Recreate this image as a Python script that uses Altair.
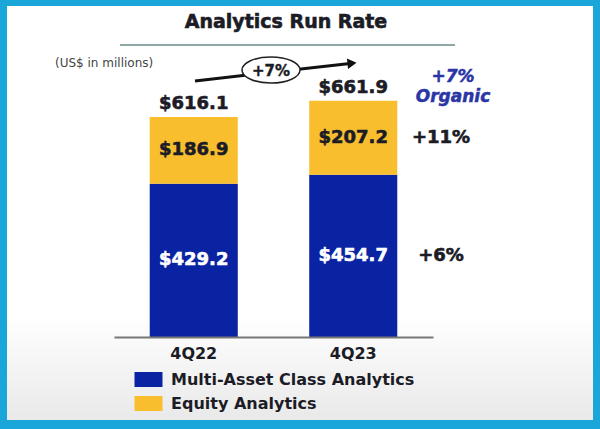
import altair as alt
import pandas as pd

quarters = ["4Q22", "4Q23"]
segments = ["Multi-Asset Class Analytics", "Equity Analytics"]
multi_asset = [429.2, 454.7]
equity = [186.9, 207.2]
totals = [616.1, 661.9]
segment_growth = ["+6%", "+11%"]  # 4Q23 YoY growth for multi-asset, equity
total_growth = "+7%"
organic_lines = ["+7%", "Organic"]
title_text = "Analytics Run Rate"
unit_text = "(US$ in millions)"

BLUE = "#0A23A2"
YELLOW = "#F8BE2E"
DARK = "#1c1c26"
FONT = "DejaVu Sans"
SW = 0.6  # slight stroke to mimic the heavy typeface

rows = []
for i, q in enumerate(quarters):
    m, e = multi_asset[i], equity[i]
    rows.append({"quarter": q, "segment": segments[0], "value": m, "ord": 0,
                 "mid": m / 2, "label": f"${m:.1f}", "tcolor": "white"})
    rows.append({"quarter": q, "segment": segments[1], "value": e, "ord": 1,
                 "mid": m + e / 2, "label": f"${e:.1f}", "tcolor": DARK})
df = pd.DataFrame(rows)
tot_df = pd.DataFrame({"quarter": quarters, "total": totals,
                       "label": [f"${t:.1f}" for t in totals]})
growth_df = df[df["quarter"] == quarters[-1]].copy()
growth_df["glabel"] = segment_growth
one = pd.DataFrame({"k": [0]})

yscale = alt.Scale(domain=[0, 832])
xenc = alt.X("quarter:N", sort=quarters,
             scale=alt.Scale(paddingInner=0.448, paddingOuter=0.224),
             axis=alt.Axis(title=None, labelAngle=0, ticks=False, domainColor="#777777",
                           domainWidth=2, labelFont=FONT, labelFontSize=16,
                           labelFontWeight="bold", labelColor=DARK, labelPadding=8,
                           zindex=1))

bg = alt.Chart(one).mark_rect(
    color=alt.LinearGradient(gradient="linear", x1=0, y1=0, x2=0, y2=1,
                             stops=[alt.GradientStop(color="#ffffff", offset=0),
                                    alt.GradientStop(color="#ffffff", offset=0.75),
                                    alt.GradientStop(color="#e9e9e9", offset=1)])
).encode(x=alt.value(-107), x2=alt.value(479), y=alt.value(-34), y2=alt.value(380))

title = alt.Chart(pd.DataFrame({"t": [title_text]})).mark_text(
    font=FONT, fontSize=19, fontWeight="bold", color=DARK, stroke=DARK, strokeWidth=SW
).encode(x=alt.value(172), y=alt.value(-18), text="t:N")

underline = alt.Chart(one).mark_rule(color="#8fa7a6", strokeWidth=2).encode(
    x=alt.value(6), x2=alt.value(341), y=alt.value(5))

unit = alt.Chart(pd.DataFrame({"t": [unit_text]})).mark_text(
    font=FONT, fontSize=12, color="#444444", align="left"
).encode(x=alt.value(-59), y=alt.value(23), text="t:N")

arrow = alt.Chart(one).mark_rule(color="#111111", strokeWidth=3).encode(
    x=alt.value(81), y=alt.value(41), x2=alt.value(236), y2=alt.value(23.5))
arrowhead = alt.Chart(one).mark_point(
    shape="triangle-right", angle=353.5, size=110, filled=True, color="#111111", opacity=1
).encode(x=alt.value(238), y=alt.value(23.3))

ellipse = alt.Chart(one).mark_point(
    shape="M-1,0A1,0.45 0 1,0 1,0A1,0.45 0 1,0 -1,0Z", size=3364, filled=True,
    fill="white", stroke="#222222", strokeWidth=1.5, opacity=1
).encode(x=alt.value(157), y=alt.value(30))
ell_text = alt.Chart(pd.DataFrame({"t": [total_growth]})).mark_text(
    font=FONT, fontSize=15, fontWeight="bold", color=DARK, stroke=DARK, strokeWidth=0.4
).encode(x=alt.value(157), y=alt.value(31), text="t:N")

bars = alt.Chart(df).mark_bar().encode(
    x=xenc,
    y=alt.Y("value:Q", stack="zero", scale=yscale, axis=None),
    color=alt.Color("segment:N", sort=segments,
                    scale=alt.Scale(domain=segments, range=[BLUE, YELLOW]),
                    legend=alt.Legend(title=None, orient="none", legendX=23, legendY=328,
                                      symbolType="M-1.217,-0.652H1.217V0.652H-1.217Z",
                                      symbolSize=529, symbolStrokeWidth=0, symbolOpacity=1,
                                      labelFont=FONT, labelFontSize=16, labelFontWeight="bold",
                                      labelColor=DARK, labelOffset=11, rowPadding=4,
                                      labelLimit=400, padding=0)),
    order=alt.Order("ord:Q", sort="ascending"),
)

tot_text = alt.Chart(tot_df).mark_text(
    font=FONT, fontSize=18, fontWeight="bold", color=DARK, dy=-13, stroke=DARK, strokeWidth=SW
).encode(x=alt.X("quarter:N", sort=quarters), y=alt.Y("total:Q", scale=yscale), text="label:N")

seg_text = alt.Chart(df).mark_text(
    font=FONT, fontSize=18, fontWeight="bold", strokeWidth=SW
).encode(x=alt.X("quarter:N", sort=quarters), y=alt.Y("mid:Q", scale=yscale), text="label:N",
         color=alt.Color("tcolor:N", scale=None),
         stroke=alt.Stroke("tcolor:N", scale=None))

growth_text = alt.Chart(growth_df).mark_text(
    font=FONT, fontSize=18, fontWeight="bold", color=DARK, stroke=DARK, strokeWidth=SW
).encode(x=alt.value(327), y=alt.Y("mid:Q", scale=yscale), text="glabel:N")

organic = alt.Chart(pd.DataFrame({"t": organic_lines, "yy": [37, 57]})).mark_text(
    font=FONT, fontSize=17, fontWeight="bold", fontStyle="italic", color="#2B36A6",
    stroke="#2B36A6", strokeWidth=0.5
).encode(x=alt.value(339), y=alt.Y("yy:Q", scale=None), text="t:N")

chart = alt.layer(
    bg, title, underline, unit, arrow, arrowhead, ellipse, ell_text,
    bars, tot_text, seg_text, growth_text, organic
).properties(
    width=319, height=297,
    autosize=alt.AutoSizeParams(type="none"),
    padding={"left": 114, "top": 40, "right": 167, "bottom": 92},
    background="#1AA6D9",
).configure_view(strokeWidth=0)

chart.save("out.html", embed_options={"renderer": "svg", "actions": False})
